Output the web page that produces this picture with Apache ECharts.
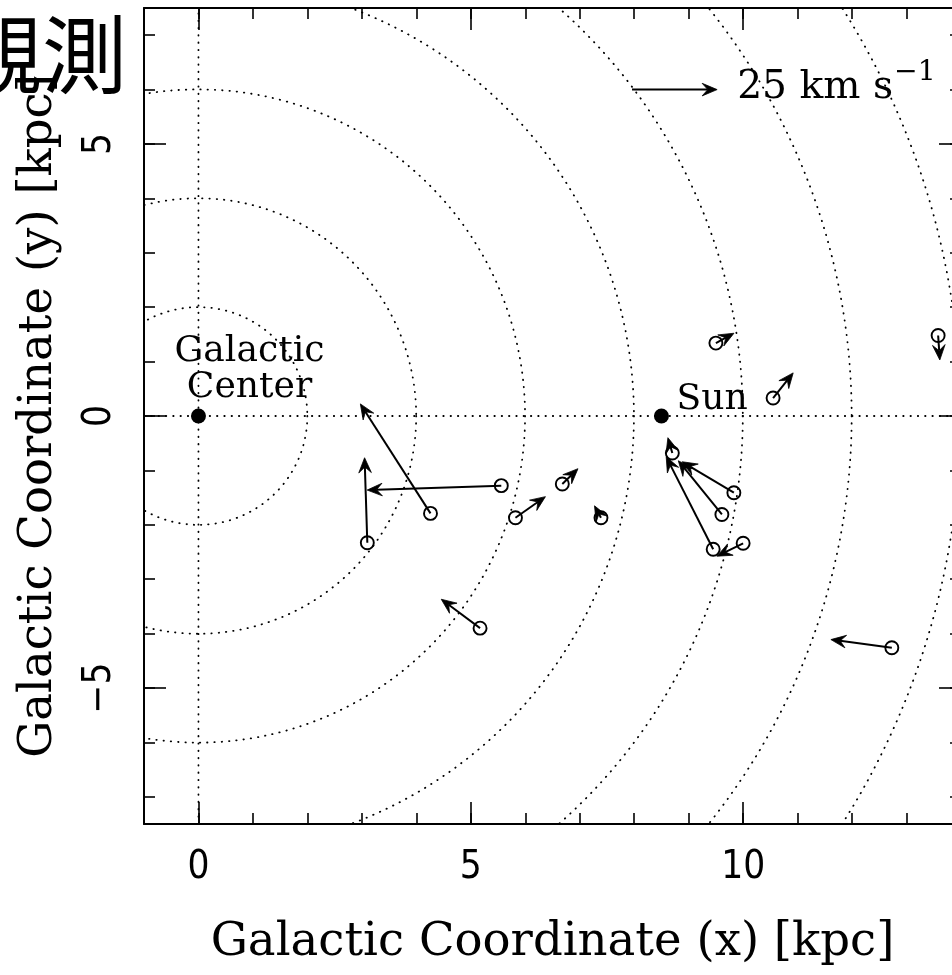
<!DOCTYPE html>
<html>
<head>
<meta charset="utf-8">
<script src="https://cdn.jsdelivr.net/npm/echarts@6.0.0/dist/echarts.min.js"></script>
<style>
html,body{margin:0;padding:0;background:#ffffff;}
#chart{width:952px;height:975px;}
</style>
</head>
<body>
<div id="chart"></div>
<script>
// ---------------- data ----------------
const chartTitle = '観測';
const xAxisTitle = 'Galactic Coordinate (x) [kpc]';
const yAxisTitle = 'Galactic Coordinate (y) [kpc]';
const xExtent = [-1, 14];
const yExtent = [-7.5, 7.5];
const xMajorTicks = [0, 5, 10];
const xMinorTicks = [-1, 0, 1, 2, 3, 4, 5, 6, 7, 8, 9, 10, 11, 12, 13, 14];
const yMajorTicks = [-5, 0, 5];
const yMinorTicks = [-7, -6, -5, -4, -3, -2, -1, 0, 1, 2, 3, 4, 5, 6, 7];
const ringRadii = [2, 4, 6, 8, 10, 12, 14, 16];
const landmarkNames = ['Galactic\nCenter', 'Sun'];
const landmarkX = [0, 8.5];
const landmarkY = [0, 0];
const srcX = [4.26, 5.56, 3.10, 5.17, 5.82, 6.68, 7.39, 8.70, 9.83, 9.61, 9.45, 10.00, 9.50, 10.55, 13.58, 12.73];
const srcY = [-1.79, -1.28, -2.33, -3.90, -1.87, -1.25, -1.87, -0.68, -1.41, -1.81, -2.45, -2.34, 1.34, 0.33, 1.48, -4.26];
const velX = [-20.6, -39.4, -0.8, -11.4, 8.8, 4.6, -1.9, -1.3, -15.2, -12.8, -13.8, -7.7, 5.3, 5.9, 0.5, -17.9];
const velY = [32.2, -1.3, 25.0, 8.5, 6.2, 4.5, 3.5, 4.5, 9.1, 15.8, 27.2, -3.8, 2.9, 7.4, -7.2, 2.4];
const kmsPerKpc = 16;
const refArrowPos = [7.96, 6.0];
const refArrowSpeed = 25;
const refLabel = '25 km s';
const refLabelSup = '\u22121';

// ---------------- fonts ----------------
const meas = document.createElement('canvas').getContext('2d');
function fontExists(name) {
  const probe = 'Galactic Coordinate 0123456789 kpc mwWil';
  return ['monospace', 'serif', 'sans-serif'].some(function (base) {
    meas.font = '60px ' + base; const a = meas.measureText(probe).width;
    meas.font = '60px "' + name + '", ' + base; const b = meas.measureText(probe).width;
    return Math.abs(a - b) > 0.5;
  });
}
function firstFont(list, generic) {
  for (const f of list) { if (fontExists(f)) return { fam: "'" + f + "', " + generic, name: f }; }
  return { fam: generic, name: generic };
}
function textWidth(text, fam, size) { meas.font = size + 'px ' + fam; return meas.measureText(text).width; }
function fitSize(text, fam, target) { return 100 * target / textWidth(text, fam, 100); }

const serif = firstFont(['DejaVu Serif', 'Liberation Serif'], 'serif');
const tick = firstFont(['Liberation Sans Narrow', 'DejaVu Sans Condensed', 'Liberation Sans'], 'sans-serif');
const serifFam = serif.fam;
const tickFam = tick.fam;
const tickSize = tick.name === 'Liberation Sans Narrow' ? 41 : Math.min(41, fitSize('10', tickFam, 44));
const axisTitleSize = fitSize(xAxisTitle, serifFam, 684);
const labelSize = fitSize('Galactic', serifFam, 150);
const refSize = fitSize(refLabel, serifFam, 156);
const supSize = refSize * 0.72;

// ---------------- helpers ----------------
function clipOf(params) {
  const c = params.coordSys;
  return { type: 'rect', shape: { x: c.x, y: c.y, width: c.width, height: c.height } };
}
function dotStyle() {
  return { fill: 'none', stroke: '#000', lineWidth: 1.8, lineDash: [0.4, 6.9], lineCap: 'round' };
}
function arrowChildren(p0, p1) {
  const dx = p1[0] - p0[0], dy = p1[1] - p0[1];
  const L = Math.hypot(dx, dy) || 1;
  const ux = dx / L, uy = dy / L, nx = -uy, ny = ux;
  const HL = 15, HW = 6.3, NF = 0.62;
  const bx = p1[0] - ux * HL, by = p1[1] - uy * HL;
  const mx = p1[0] - ux * HL * NF, my = p1[1] - uy * HL * NF;
  const kids = [];
  if (L > HL * NF) {
    kids.push({ type: 'line', shape: { x1: p0[0], y1: p0[1], x2: mx, y2: my },
      style: { stroke: '#000', lineWidth: 2 } });
  }
  kids.push({ type: 'polygon',
    shape: { points: [[p1[0], p1[1]], [bx + nx * HW, by + ny * HW], [mx, my], [bx - nx * HW, by - ny * HW]] },
    style: { fill: '#000', stroke: '#000', lineWidth: 0.8 } });
  return kids;
}

function minorAxis(pos, ticks, extent) {
  return {
    type: 'value', position: pos, min: extent[0], max: extent[1],
    axisLine: { show: true, onZero: false, lineStyle: { color: '#000', width: 2 } },
    axisTick: { show: true, inside: true, length: 11, customValues: ticks, lineStyle: { color: '#000', width: 1.6 } },
    axisLabel: { show: false }, splitLine: { show: false }
  };
}
function majorAxis(pos, ticks, extent) {
  return {
    type: 'value', position: pos, min: extent[0], max: extent[1],
    axisLine: { show: false, onZero: false },
    axisTick: { show: true, inside: true, length: 22, customValues: ticks, lineStyle: { color: '#000', width: 1.6 } },
    axisLabel: { show: false }, splitLine: { show: false }
  };
}
const minusFmt = function (v) { return String(v).replace('-', '\u2212'); };

const xBottom = minorAxis('bottom', xMinorTicks, xExtent);
xBottom.axisLabel = { show: true, customValues: xMajorTicks, margin: 25, color: '#000',
  fontFamily: tickFam, fontSize: tickSize, formatter: minusFmt };
xBottom.name = xAxisTitle;
xBottom.nameLocation = 'middle';
xBottom.nameGap = 95;
xBottom.nameTextStyle = { fontFamily: serifFam, fontSize: axisTitleSize, color: '#000' };

const yLeft = minorAxis('left', yMinorTicks, yExtent);
yLeft.axisLabel = { show: true, customValues: yMajorTicks, margin: 25, rotate: 90, color: '#000',
  fontFamily: tickFam, fontSize: tickSize, formatter: minusFmt };
yLeft.name = yAxisTitle;
yLeft.nameLocation = 'middle';
yLeft.nameGap = 82;
yLeft.nameTextStyle = { fontFamily: serifFam, fontSize: axisTitleSize, color: '#000' };

const chart = echarts.init(document.getElementById('chart'), null, { renderer: 'canvas' });
chart.setOption({
  animation: false,
  backgroundColor: '#ffffff',
  title: {
    text: chartTitle, left: -43, top: 12, padding: 0,
    textStyle: { fontFamily: "'Noto Sans CJK JP', sans-serif", fontSize: 85, fontWeight: 'normal', color: '#000' }
  },
  grid: { left: 144, top: 8, right: -9, bottom: 151, containLabel: false, outerBoundsMode: 'none' },
  xAxis: [
    xBottom,
    majorAxis('bottom', xMajorTicks, xExtent),
    minorAxis('top', xMinorTicks, xExtent),
    majorAxis('top', xMajorTicks, xExtent)
  ],
  yAxis: [
    yLeft,
    majorAxis('left', yMajorTicks, yExtent),
    minorAxis('right', yMinorTicks, yExtent),
    majorAxis('right', yMajorTicks, yExtent)
  ],
  series: [
    {
      type: 'custom', name: 'rings', silent: true, z: 1,
      data: ringRadii.map(function (r) { return [r, 0]; }),
      renderItem: function (params, api) {
        const r = api.value(0);
        const c = api.coord([0, 0]);
        const s = api.size([r, r]);
        return { type: 'circle', shape: { cx: c[0], cy: c[1], r: (s[0] + s[1]) / 2 },
          style: dotStyle(), clipPath: clipOf(params) };
      }
    },
    {
      type: 'custom', name: 'axes0', silent: true, z: 1,
      data: [[landmarkX[0], landmarkY[0]]],
      renderItem: function (params, api) {
        const x0 = api.value(0), y0 = api.value(1);
        const a = api.coord([x0, yExtent[0]]), b = api.coord([x0, yExtent[1]]);
        const c = api.coord([xExtent[0], y0]), d = api.coord([xExtent[1], y0]);
        return { type: 'group', children: [
          { type: 'line', shape: { x1: a[0], y1: a[1], x2: b[0], y2: b[1] }, style: dotStyle() },
          { type: 'line', shape: { x1: c[0], y1: c[1], x2: d[0], y2: d[1] }, style: dotStyle() }
        ] };
      }
    },
    {
      type: 'custom', name: 'motions', silent: true, z: 3,
      data: srcX.map(function (x, i) { return [x, srcY[i], velX[i], velY[i]]; }),
      renderItem: function (params, api) {
        const x = api.value(0), y = api.value(1);
        const p0 = api.coord([x, y]);
        const p1 = api.coord([x + api.value(2) / kmsPerKpc, y + api.value(3) / kmsPerKpc]);
        return { type: 'group', children: arrowChildren(p0, p1) };
      }
    },
    {
      type: 'scatter', name: 'sources', silent: true, z: 4,
      symbol: 'circle', symbolSize: 13,
      itemStyle: { color: 'rgba(0,0,0,0)', borderColor: '#000', borderWidth: 1.9, opacity: 1 },
      data: srcX.map(function (x, i) { return [x, srcY[i]]; })
    },
    {
      type: 'custom', name: 'landmarks', silent: true, z: 5,
      data: landmarkX.map(function (x, i) { return [x, landmarkY[i]]; }),
      renderItem: function (params, api) {
        const p = api.coord([api.value(0), api.value(1)]);
        const i = params.dataIndex;
        const txt = i === 0
          ? { type: 'text', style: { text: landmarkNames[i], x: p[0] + 51, y: p[1] - 46, align: 'center',
              verticalAlign: 'middle', lineHeight: 36, fill: '#000', fontFamily: serifFam, fontSize: labelSize } }
          : { type: 'text', style: { text: landmarkNames[i], x: p[0] + 15, y: p[1] - 16, align: 'left',
              verticalAlign: 'middle', fill: '#000', fontFamily: serifFam, fontSize: labelSize } };
        return { type: 'group', children: [
          { type: 'circle', shape: { cx: p[0], cy: p[1], r: 7.5 }, style: { fill: '#000' } },
          txt
        ] };
      }
    },
    {
      type: 'custom', name: 'scale', silent: true, z: 5,
      data: [[refArrowPos[0], refArrowPos[1], refArrowSpeed]],
      renderItem: function (params, api) {
        const x = api.value(0), y = api.value(1);
        const p0 = api.coord([x, y]);
        const p1 = api.coord([x + api.value(2) / kmsPerKpc, y]);
        const tx = p1[0] + 20;
        const w = textWidth(refLabel, serifFam, refSize);
        const kids = arrowChildren(p0, p1);
        kids.push({ type: 'text', style: { text: refLabel, x: tx, y: p1[1] - 2, align: 'left', verticalAlign: 'middle',
          fill: '#000', fontFamily: serifFam, fontSize: refSize } });
        kids.push({ type: 'text', style: { text: refLabelSup, x: tx + w + 1, y: p1[1] - 17, align: 'left', verticalAlign: 'middle',
          fill: '#000', fontFamily: serifFam, fontSize: supSize } });
        return { type: 'group', children: kids };
      }
    }
  ]
});
</script>
</body>
</html>
